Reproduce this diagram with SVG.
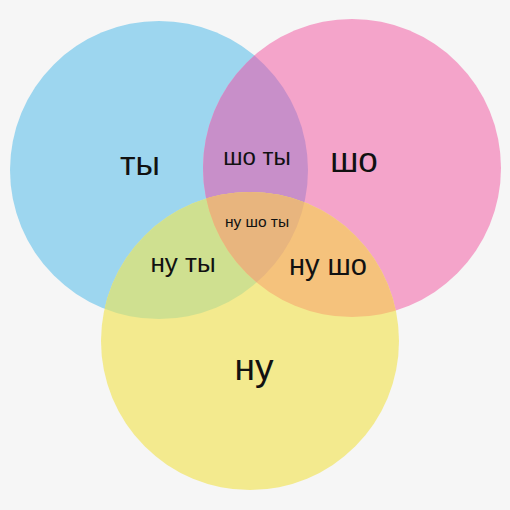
<svg xmlns="http://www.w3.org/2000/svg" width="510" height="510" viewBox="0 0 510 510">
<style>
text{font-family:"Liberation Sans",Arial,sans-serif;fill:#111;text-anchor:middle}
</style>
<defs>
<circle id="cb" cx="159" cy="170" r="149"/>
<circle id="cp" cx="352" cy="168" r="149"/>
<circle id="cy" cx="250" cy="341" r="149"/>
<clipPath id="clipB"><use href="#cb"/></clipPath>
<clipPath id="clipP"><use href="#cp"/></clipPath>
<clipPath id="clipY"><use href="#cy"/></clipPath>
</defs>
<rect width="510" height="510" fill="#f6f6f6"/>
<g id="circles">
<use id="blue" href="#cb" fill="#9dd6ef"/>
<use id="pink" href="#cp" fill="#f4a4ca"/>
<use id="yellow" href="#cy" fill="#f3ea8e"/>
<g clip-path="url(#clipB)"><use href="#cp" fill="#c88fc9"/><use href="#cy" fill="#cfe090"/></g>
<g clip-path="url(#clipP)"><use href="#cy" fill="#f5c27c"/></g>
<g clip-path="url(#clipB)"><g clip-path="url(#clipP)"><use href="#cy" fill="#e8b57e"/></g></g>
</g>
<g id="labels">
<text x="140" y="175" font-size="34">ты</text>
<text x="354" y="172" font-size="35">шо</text>
<text x="257" y="165" font-size="24">шо ты</text>
<text x="257" y="227" font-size="15.5">ну шо ты</text>
<text x="183" y="272" font-size="26">ну ты</text>
<text x="328" y="275" font-size="29">ну шо</text>
<text x="254" y="380" font-size="37">ну</text>
</g>
</svg>
